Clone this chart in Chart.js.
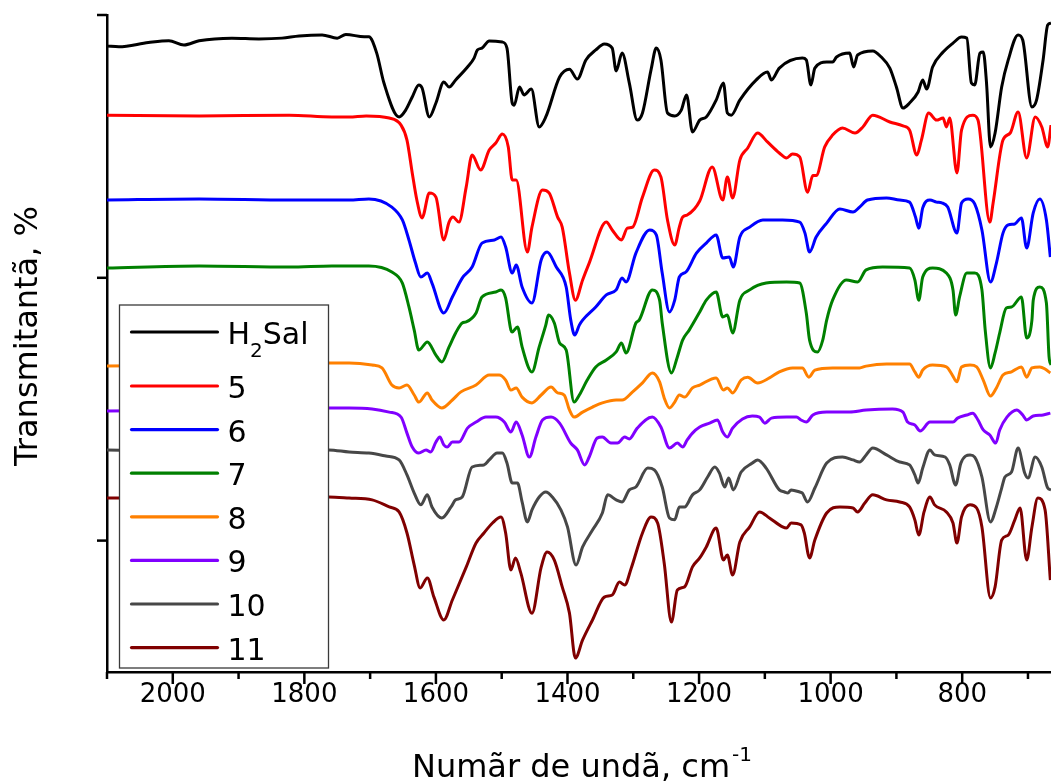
<!DOCTYPE html>
<html>
<head>
<meta charset="utf-8">
<script src="https://cdn.jsdelivr.net/npm/chart.js@4.4.1/dist/chart.umd.min.js"></script>
<style>
html,body{margin:0;padding:0;background:#fff;}
canvas{display:block;}
</style>
</head>
<body>
<canvas id="c" width="1051" height="781"></canvas>
<script>
// ---- Data: [wavenumber (cm-1), transmittance (a.u., offset spectra)] ----
const seriesLabels = ['H₂Sal', '5', '6', '7', '8', '9', '10', '11'];
const seriesColors = ['#000000', '#ff0000', '#0000ff', '#008000', '#ff8000', '#8000ff', '#474747', '#800000'];

const xTickValues = [2100, 2000, 1900, 1800, 1700, 1600, 1500, 1400, 1300, 1200, 1100, 1000, 900, 800, 700];
const yTickValues = [50, 150, 250];

const h2salData = [[2100,238.2],[2082,237.9],[2037,239.5],[2006,240.2],[1983,238.6],[1960,240.2],[1910,241.2],[1869,240.9],[1834,241.2],[1808,242.0],[1773,242.4],[1750,241.2],[1737,242.6],[1709,241.7],[1702,241.7],[1690,235.5],[1679,224.1],[1656,211.2],[1646,213.8],[1636,218.8],[1626,223.4],[1621,222.2],[1610,211.2],[1600,216.5],[1588,224.5],[1580,222.6],[1570,225.3],[1552,230.2],[1542,233.6],[1537,236.7],[1530,237.4],[1519,240.1],[1499,239.7],[1492,237.4],[1484,216.5],[1481,215.7],[1473,222.6],[1466,219.6],[1455,221.8],[1443,207.4],[1433,211.2],[1412,226.4],[1397,229.4],[1385,225.6],[1372,232.9],[1357,236.7],[1344,239.0],[1332,237.4],[1326,228.7],[1317,235.5],[1306,224.1],[1294,210.0],[1286,212.7],[1273,229.1],[1265,237.4],[1258,232.9],[1248,212.7],[1237,211.6],[1227,213.8],[1219,219.6],[1210,205.5],[1199,210.0],[1189,211.2],[1174,217.6],[1163,224.1],[1157,212.7],[1151,211.9],[1138,217.6],[1113,225.3],[1096,228.3],[1090,225.3],[1078,229.8],[1043,233.6],[1037,232.9],[1030,223.4],[1024,229.8],[1006,232.1],[997,232.1],[991,234.0],[971,235.5],[965,230.2],[959,234.8],[936,236.3],[923,234.0],[910,229.8],[900,222.6],[890,214.6],[880,216.5],[867,220.7],[860,225.3],[854,221.8],[845,230.2],[829,235.9],[814,239.3],[801,241.6],[793,241.2],[786,224.1],[781,223.4],[773,235.5],[768,235.9],[763,224.1],[757,199.8],[750,205.1],[740,222.6],[730,232.9],[715,242.4],[708,240.5],[694,215.0],[687,217.6],[677,232.9],[670,246.2],[665,246.9]];

const c5Data = [[2100,211.9],[1960,211.6],[1823,211.9],[1758,211.2],[1732,211.2],[1706,211.6],[1671,210.8],[1653,208.1],[1644,202.4],[1636,189.9],[1629,179.6],[1621,172.8],[1610,182.3],[1600,180.7],[1588,164.4],[1580,171.2],[1574,173.1],[1565,171.2],[1554,184.5],[1545,196.7],[1532,191.0],[1519,198.6],[1509,201.3],[1499,204.7],[1490,199.8],[1484,187.2],[1478,187.2],[1461,159.8],[1454,169.3],[1438,183.4],[1428,182.3],[1415,173.1],[1408,169.3],[1397,151.8],[1388,141.5],[1377,149.2],[1367,155.6],[1341,171.2],[1332,168.2],[1318,164.4],[1309,168.9],[1301,169.3],[1286,180.7],[1268,191.0],[1258,188.4],[1248,172.0],[1237,162.5],[1230,169.3],[1225,173.1],[1218,173.9],[1199,179.2],[1180,192.2],[1164,179.6],[1157,188.4],[1149,180.4],[1138,194.8],[1126,199.4],[1111,205.1],[1096,201.7],[1078,197.5],[1067,195.6],[1058,197.1],[1047,196.0],[1035,182.6],[1027,188.9],[1022,188.9],[1009,199.8],[997,204.3],[982,207.0],[963,205.1],[951,207.4],[936,211.9],[910,209.3],[890,207.8],[880,206.2],[869,196.7],[862,202.4],[851,212.7],[839,210.0],[829,210.8],[824,207.4],[819,210.8],[808,189.9],[801,206.2],[784,211.9],[776,210.0],[758,171.2],[753,178.5],[738,202.4],[727,205.1],[715,213.1],[702,195.6],[689,211.2],[679,207.4],[670,199.8],[665,208.1]];

const c6Data = [[2100,179.6],[1960,180.0],[1823,179.6],[1732,179.6],[1702,180.0],[1667,176.9],[1651,172.0],[1641,164.4],[1631,155.6],[1623,150.3],[1613,151.8],[1606,148.0],[1588,136.6],[1575,142.7],[1560,149.9],[1545,154.1],[1530,163.2],[1511,164.4],[1501,165.5],[1494,161.7],[1484,151.8],[1478,154.9],[1469,146.5],[1454,140.4],[1440,156.8],[1431,159.8],[1417,154.1],[1402,146.5],[1395,133.9],[1389,128.2],[1382,132.0],[1377,133.9],[1357,138.9],[1341,143.5],[1326,145.4],[1317,149.9],[1311,148.4],[1296,159.4],[1275,168.2],[1265,166.3],[1256,151.8],[1245,137.0],[1237,141.5],[1230,150.3],[1220,152.2],[1204,159.4],[1189,163.2],[1174,166.3],[1164,157.5],[1154,157.9],[1148,154.1],[1138,165.5],[1123,169.3],[1103,172.0],[1073,172.0],[1047,171.2],[1039,167.0],[1032,159.8],[1022,165.5],[1006,170.8],[986,176.2],[966,175.0],[956,176.9],[944,179.6],[915,180.4],[895,179.6],[880,178.8],[871,173.1],[866,168.9],[860,176.6],[849,179.6],[839,178.8],[831,178.5],[822,176.9],[808,167.0],[801,178.5],[791,180.0],[781,178.1],[770,168.2],[757,148.4],[748,155.6],[738,167.0],[730,170.1],[720,170.5],[710,172.8],[702,161.3],[692,174.7],[682,180.0],[672,172.0],[666,157.9]];

const c7Data = [[2100,153.7],[1960,154.5],[1823,154.1],[1758,154.5],[1702,154.5],[1667,152.2],[1651,148.0],[1641,138.9],[1633,130.1],[1626,122.5],[1613,125.6],[1600,120.6],[1591,118.0],[1580,123.7],[1570,129.0],[1560,132.8],[1554,133.2],[1539,136.6],[1530,142.7],[1509,144.6],[1501,145.4],[1494,142.3],[1486,130.1],[1484,129.4],[1476,131.3],[1469,123.7],[1454,114.2],[1443,123.7],[1433,132.0],[1429,135.8],[1420,132.8],[1412,125.2],[1402,122.5],[1390,102.7],[1382,105.4],[1370,111.1],[1357,116.1],[1341,118.7],[1326,121.8],[1318,125.2],[1311,121.4],[1296,132.8],[1291,133.9],[1271,145.4],[1260,141.5],[1256,132.8],[1242,113.8],[1233,119.9],[1225,126.3],[1215,130.1],[1199,137.0],[1189,141.5],[1174,144.6],[1164,135.1],[1157,135.8],[1149,129.0],[1138,141.5],[1123,145.4],[1098,148.0],[1067,148.4],[1047,148.0],[1037,136.6],[1032,126.3],[1020,121.8],[1012,126.3],[1006,133.9],[997,141.5],[976,149.2],[959,148.4],[946,153.0],[921,154.1],[880,153.7],[872,149.2],[866,141.5],[860,150.3],[845,153.7],[824,151.8],[814,145.4],[810,135.8],[804,142.7],[793,151.8],[781,151.8],[770,145.4],[765,130.1],[757,115.7],[750,121.4],[743,129.0],[733,138.5],[725,138.9],[710,142.7],[702,127.1],[694,133.9],[692,141.5],[682,146.5],[672,140.4],[668,120.1],[665,116.8]];

const c8Data = [[2100,116.4],[1960,116.8],[1823,117.2],[1763,117.6],[1732,117.6],[1697,116.8],[1682,115.7],[1667,109.2],[1656,108.1],[1644,109.2],[1633,105.4],[1626,102.7],[1613,106.2],[1606,103.5],[1591,100.5],[1575,103.5],[1562,106.6],[1539,109.2],[1519,113.0],[1504,113.0],[1494,111.1],[1486,107.3],[1478,108.1],[1469,104.6],[1454,102.4],[1440,105.4],[1425,108.4],[1415,106.2],[1405,105.4],[1397,99.7],[1390,97.0],[1377,98.9],[1362,100.8],[1347,102.4],[1326,103.5],[1317,103.5],[1301,106.6],[1286,110.0],[1271,113.8],[1260,110.4],[1253,104.3],[1245,100.5],[1237,102.7],[1230,105.4],[1222,104.6],[1210,108.1],[1199,109.2],[1174,111.9],[1163,107.3],[1157,108.1],[1149,106.2],[1136,111.1],[1126,112.2],[1111,110.0],[1093,111.9],[1078,114.2],[1058,115.7],[1043,115.7],[1033,112.2],[1024,114.9],[997,115.7],[956,115.7],[946,116.4],[915,117.2],[880,117.2],[872,114.2],[866,112.2],[860,114.9],[845,116.8],[824,116.1],[815,113.0],[808,110.4],[801,116.1],[788,116.8],[778,116.1],[768,111.1],[757,105.0],[748,108.1],[738,113.0],[725,114.2],[710,116.1],[702,112.2],[694,115.7],[682,116.1],[674,115.3],[666,113.8]];

const c9Data = [[2100,99.3],[1960,99.7],[1823,100.1],[1763,100.5],[1732,100.5],[1697,100.1],[1671,98.9],[1653,97.0],[1644,90.9],[1636,85.6],[1626,83.3],[1615,84.5],[1608,83.7],[1600,87.5],[1594,89.4],[1588,86.4],[1583,85.6],[1575,87.5],[1565,87.5],[1552,92.8],[1539,95.1],[1524,97.0],[1509,97.0],[1496,95.1],[1486,91.3],[1478,95.1],[1469,90.2],[1458,81.8],[1448,89.4],[1438,95.9],[1425,97.0],[1412,94.7],[1395,87.1],[1385,84.5],[1374,78.8],[1367,81.8],[1355,89.0],[1347,89.4],[1334,87.1],[1324,87.1],[1313,89.4],[1306,88.7],[1294,92.8],[1271,97.0],[1258,93.2],[1245,85.2],[1233,87.1],[1225,85.6],[1218,88.3],[1210,90.9],[1199,93.2],[1184,94.7],[1172,95.9],[1164,91.3],[1157,89.4],[1149,92.8],[1134,96.3],[1119,97.4],[1108,97.0],[1100,94.7],[1090,96.6],[1067,97.0],[1052,97.0],[1045,95.9],[1037,95.1],[1027,97.8],[1006,98.9],[971,98.9],[946,99.7],[906,100.1],[890,98.9],[883,95.1],[872,94.0],[864,91.7],[849,95.1],[829,95.1],[814,95.1],[807,96.6],[793,97.8],[784,98.5],[776,95.9],[768,92.1],[758,90.2],[749,87.1],[743,92.1],[732,97.0],[717,99.7],[708,97.8],[702,95.9],[692,97.4],[677,97.8],[666,98.5]];

const c10Data = [[2100,84.5],[1960,84.1],[1823,84.1],[1763,84.5],[1732,83.7],[1702,83.3],[1676,82.2],[1656,80.7],[1644,75.0],[1633,68.1],[1623,63.6],[1613,67.4],[1606,62.8],[1591,58.6],[1577,62.8],[1570,65.5],[1560,66.6],[1545,78.0],[1527,78.8],[1519,80.7],[1507,83.3],[1499,83.3],[1492,79.5],[1484,71.9],[1476,71.9],[1469,64.7],[1461,57.1],[1454,61.7],[1443,66.6],[1433,68.5],[1423,66.6],[1410,61.7],[1400,55.2],[1387,40.7],[1377,47.6],[1362,54.0],[1347,60.5],[1339,67.4],[1326,65.5],[1317,64.7],[1306,69.3],[1296,70.4],[1278,77.6],[1268,76.9],[1256,70.4],[1245,58.6],[1237,57.9],[1230,62.8],[1222,62.8],[1210,67.4],[1199,69.3],[1187,74.2],[1176,78.0],[1169,75.7],[1161,70.4],[1155,73.8],[1148,69.3],[1136,76.1],[1119,79.5],[1111,80.7],[1098,77.6],[1078,69.3],[1070,68.5],[1065,68.1],[1060,69.3],[1047,68.5],[1043,68.1],[1035,64.7],[1024,70.0],[1006,79.5],[982,81.8],[966,80.7],[956,79.9],[946,82.6],[936,85.2],[915,82.6],[895,79.9],[880,78.8],[872,75.0],[867,71.9],[860,77.6],[849,84.5],[842,82.6],[826,81.8],[819,78.8],[810,71.2],[802,79.5],[788,82.6],[781,81.8],[770,74.2],[757,57.1],[748,62.8],[740,70.0],[735,74.2],[725,76.1],[715,85.2],[705,75.7],[700,73.8],[689,81.8],[679,78.0],[670,70.0],[665,69.3]];

const c11Data = [[2100,66.2],[1960,66.2],[1823,66.6],[1763,66.6],[1732,66.2],[1697,65.5],[1671,62.8],[1656,60.9],[1644,52.9],[1633,40.7],[1624,32.0],[1613,35.8],[1603,28.5],[1588,19.8],[1575,27.4],[1554,39.9],[1539,49.1],[1527,52.9],[1514,56.7],[1501,59.0],[1494,52.9],[1486,38.8],[1479,43.4],[1471,37.7],[1454,22.4],[1440,39.9],[1431,45.7],[1420,42.6],[1408,32.4],[1397,22.4],[1388,5.3],[1377,12.2],[1362,19.8],[1344,28.5],[1332,29.3],[1321,34.2],[1313,33.1],[1303,39.6],[1286,52.9],[1273,59.0],[1263,56.7],[1253,41.5],[1242,19.0],[1233,31.2],[1222,32.4],[1210,40.0],[1199,43.4],[1189,47.6],[1174,54.8],[1163,42.6],[1157,44.5],[1149,36.9],[1138,49.5],[1123,55.2],[1108,60.9],[1093,58.6],[1073,55.2],[1067,54.8],[1060,56.7],[1045,56.0],[1040,52.9],[1032,43.4],[1024,50.2],[1006,60.5],[986,62.8],[966,62.4],[959,60.9],[948,64.3],[936,67.4],[915,65.5],[895,64.7],[880,62.8],[872,57.9],[866,52.1],[858,60.9],[849,66.6],[842,63.6],[824,60.9],[814,56.7],[808,49.1],[801,59.0],[788,63.6],[778,62.4],[770,55.2],[757,28.2],[750,32.4],[740,50.2],[730,52.1],[720,57.9],[712,62.4],[702,42.6],[694,55.2],[685,66.2],[674,61.7],[666,35.0]];

const seriesData = [h2salData, c5Data, c6Data, c7Data, c8Data, c9Data, c10Data, c11Data];

const xTitle = 'Numãr de undã, cm';
const xTitleSup = '-1';
const yTitle = 'Transmitantã, %';

// ---- Rendering ----
const FONT = "'DejaVu Sans', 'Liberation Sans', sans-serif";

function drawLabelWithSub(ctx, text, x, y, size) {
  const subMap = {'₀':'0','₁':'1','₂':'2','₃':'3','₄':'4','₅':'5','₆':'6','₇':'7','₈':'8','₉':'9'};
  let cx = x;
  for (const ch of text) {
    if (subMap[ch]) {
      ctx.font = `${Math.round(size * 0.66)}px ${FONT}`;
      ctx.fillText(subMap[ch], cx, y + size * 0.43);
      cx += ctx.measureText(subMap[ch]).width;
    } else {
      ctx.font = `${size}px ${FONT}`;
      ctx.fillText(ch, cx, y);
      cx += ctx.measureText(ch).width;
    }
  }
}

const decorPlugin = {
  id: 'decor',
  afterDatasetsDraw(chart) {
    const {ctx, chartArea} = chart;
    const bx = chartArea.left + 12.5, by = 305, bw = 209, bh = 363;
    ctx.save();
    ctx.fillStyle = '#fff';
    ctx.fillRect(bx, by, bw, bh);
    ctx.strokeStyle = '#3a3a3a';
    ctx.lineWidth = 1.3;
    ctx.strokeRect(bx, by, bw, bh);
    chart.data.datasets.forEach((ds, i) => {
      const rowY = i === 0 ? by + 27 : by + 81 + (i - 1) * 43.6;
      ctx.strokeStyle = ds.borderColor;
      ctx.lineWidth = 3.2;
      ctx.lineCap = 'round';
      ctx.beginPath();
      ctx.moveTo(bx + 12, rowY);
      ctx.lineTo(bx + 98, rowY);
      ctx.stroke();
      ctx.fillStyle = '#000';
      ctx.textBaseline = 'alphabetic';
      ctx.textAlign = 'left';
      drawLabelWithSub(ctx, ds.label, bx + 108, rowY + 12, 30);
    });
    ctx.restore();
  },
  afterDraw(chart) {
    const {ctx, chartArea, scales: {x, y}} = chart;
    ctx.save();
    ctx.strokeStyle = '#000';
    ctx.lineWidth = 2.5;
    ctx.lineCap = 'butt';
    xTickValues.forEach(v => {
      const px = x.getPixelForValue(v);
      const len = v % 200 === 0 ? 12 : 7;
      ctx.beginPath();
      ctx.moveTo(px, chartArea.bottom);
      ctx.lineTo(px, chartArea.bottom + len);
      ctx.stroke();
    });
    yTickValues.forEach(v => {
      const py = y.getPixelForValue(v);
      ctx.beginPath();
      ctx.moveTo(chartArea.left, py);
      ctx.lineTo(chartArea.left - 10, py);
      ctx.stroke();
    });
    ctx.fillStyle = '#000';
    ctx.textBaseline = 'alphabetic';
    ctx.textAlign = 'left';
    ctx.font = `32px ${FONT}`;
    const w1 = ctx.measureText(xTitle).width;
    ctx.font = `20px ${FONT}`;
    const w2 = ctx.measureText(xTitleSup).width;
    const cx = (chartArea.left + chartArea.right) / 2 + 3;
    const sx = cx - (w1 + w2 + 2) / 2;
    ctx.font = `32px ${FONT}`;
    ctx.fillText(xTitle, sx, 777);
    ctx.font = `20px ${FONT}`;
    ctx.fillText(xTitleSup, sx + w1 + 2, 761);
    ctx.translate(37, 336);
    ctx.rotate(-Math.PI / 2);
    ctx.textAlign = 'center';
    ctx.font = `32px ${FONT}`;
    ctx.fillText(yTitle, 0, 0);
    ctx.restore();
  }
};

new Chart(document.getElementById('c').getContext('2d'), {
  type: 'line',
  data: {
    datasets: seriesData.map((arr, i) => ({
      label: seriesLabels[i],
      data: arr.map(p => ({x: p[0], y: p[1]})),
      borderColor: seriesColors[i],
      backgroundColor: seriesColors[i],
      borderWidth: 3,
      pointRadius: 0,
      fill: false,
      cubicInterpolationMode: 'monotone'
    }))
  },
  options: {
    responsive: false,
    animation: false,
    devicePixelRatio: 1,
    layout: {padding: {top: 15, right: 0, left: 0, bottom: 0}},
    plugins: {legend: {display: false}, tooltip: {enabled: false}, title: {display: false}},
    scales: {
      x: {
        type: 'linear',
        reverse: true,
        min: 665,
        max: 2100,
        afterBuildTicks: s => { s.ticks = xTickValues.map(v => ({value: v})); },
        afterFit: s => { s.height = 109; },
        ticks: {
          autoSkip: false, maxRotation: 0, minRotation: 0, color: '#000', padding: 6,
          font: {family: FONT, size: 26},
          callback: v => (v % 200 === 0 ? String(v) : '')
        },
        grid: {display: true, drawOnChartArea: false, drawTicks: true, tickLength: 2, tickColor: 'rgba(0,0,0,0)'},
        border: {display: true, color: '#000', width: 2.5}
      },
      y: {
        type: 'linear',
        min: 0,
        max: 250,
        afterBuildTicks: s => { s.ticks = yTickValues.map(v => ({value: v})); },
        afterFit: s => { s.width = 107; },
        ticks: {display: false},
        grid: {display: true, drawOnChartArea: false, drawTicks: false},
        border: {display: true, color: '#000', width: 2.5}
      }
    }
  },
  plugins: [decorPlugin]
});
</script>
</body>
</html>
